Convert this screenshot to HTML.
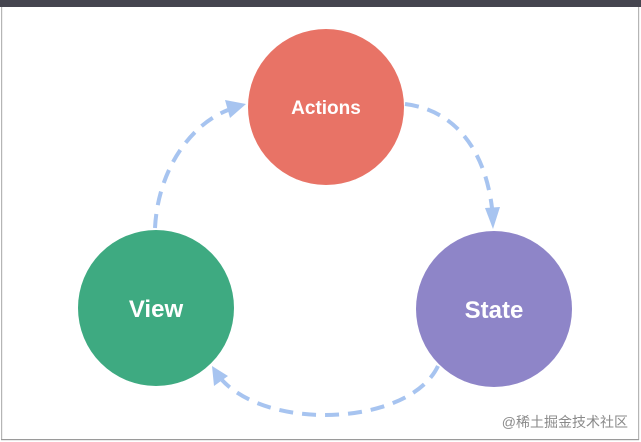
<!DOCTYPE html>
<html><head><meta charset="utf-8"><style>
html,body{margin:0;padding:0;background:#fff;}
body{width:641px;height:442px;overflow:hidden;position:relative;}
</style></head><body>
<svg width="641" height="442" viewBox="0 0 641 442" style="position:absolute;left:0;top:0">
<rect x="0" y="0" width="641" height="442" fill="#fff"/>
<rect x="0" y="0" width="641" height="7" fill="#45454f"/>
<rect x="1" y="7" width="1.2" height="433" fill="#b5b5b5"/>
<rect x="638" y="7" width="1.2" height="433" fill="#b5b5b5"/>
<rect x="1" y="439" width="638" height="1.2" fill="#9a9a9a"/>
<g fill="none" stroke="#a7c4f0" stroke-width="4" stroke-dasharray="14 9">
<path d="M155 228 C158 170 190 125 228 110"/>
<path d="M405 104 C455 110 485 150 492 208"/>
<path d="M438 366 C410 425 270 432 222 380"/>
</g>
<g fill="#a7c4f0">
<polygon points="246,104 225,100 230,118"/>
<polygon points="493,229 485,208 500,207"/>
<polygon points="212,366 214,386 228,376"/>
</g>
<circle cx="326" cy="107" r="78" fill="#e87366"/>
<circle cx="156" cy="308" r="78" fill="#3eaa81"/>
<circle cx="494" cy="309" r="78" fill="#8e85c8"/>
<g font-family="Liberation Sans, sans-serif" font-weight="bold" fill="#fff" text-anchor="middle">
<text x="326" y="114" font-size="19">Actions</text>
<text x="156" y="317" font-size="24">View</text>
<text x="494" y="318" font-size="24">State</text>
</g>
<text x="628" y="427" text-anchor="end" font-family="Liberation Sans, 'Noto Sans CJK SC', sans-serif" font-size="14" fill="#8a8a8a">@稀土掘金技术社区</text>
</svg>
</body></html>
